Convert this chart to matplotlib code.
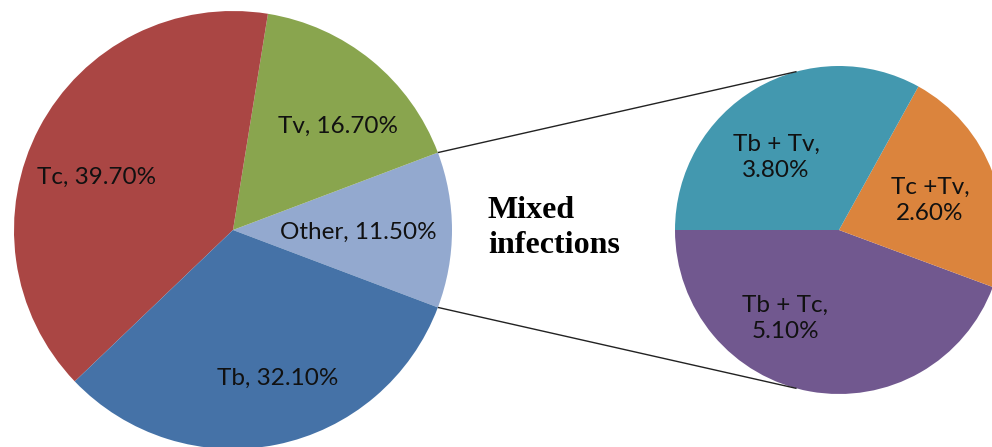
import numpy as np
import matplotlib
matplotlib.use("Agg")
import matplotlib.pyplot as plt

# Data
main_labels = ["Other", "Tv", "Tc", "Tb"]
main_values = [11.5, 16.7, 39.7, 32.1]
main_colors = ["#93A9CF", "#89A54E", "#AA4644", "#4572A7"]

sub_labels = ["Tb + Tc", "Tc +Tv", "Tb + Tv"]
sub_values = [5.1, 2.6, 3.8]
sub_colors = ["#71588F", "#DB843D", "#4398AF"]

W, H = 992, 447
fig = plt.figure(figsize=(W / 100, H / 100), dpi=100)
ax = fig.add_axes([0, 0, 1, 1])

c1 = (233, H - 230)
r1 = 219
c2 = (839, H - 230)
r2 = 164

other_half = 360 * main_values[0] / sum(main_values) / 2
ax.pie(main_values, colors=main_colors, startangle=-other_half, counterclock=True,
       center=c1, radius=r1, wedgeprops=dict(linewidth=0), frame=True)
ax.pie(sub_values, colors=sub_colors, startangle=180, counterclock=True,
       center=c2, radius=r2, wedgeprops=dict(linewidth=0), frame=True)

# connector lines
for sgn, ang2 in [(1, 105), (-1, 255)]:
    a1 = np.deg2rad(sgn * other_half)
    a2 = np.deg2rad(ang2)
    ax.plot([c1[0] + r1 * np.cos(a1), c2[0] + r2 * np.cos(a2)],
            [c1[1] + r1 * np.sin(a1), c2[1] + r2 * np.sin(a2)],
            color="#222222", lw=1.0, solid_capstyle="butt")

lab_font = dict(family=["Lato", "DejaVu Sans"], fontsize=17.5, color="#111111",
                ha="center", va="center", linespacing=1.3)
main_pos = {"Other": (358, 232), "Tv": (338, 126), "Tc": (97, 177), "Tb": (278, 378)}
for lab, v in zip(main_labels, main_values):
    x, y = main_pos[lab]
    ax.text(x, H - y, f"{lab}, {v:.2f}%", **lab_font)

sub_pos = {"Tb + Tc": (785, 318), "Tc +Tv": (930, 200), "Tb + Tv": (776, 157)}
for lab, v in zip(sub_labels, sub_values):
    x, y = sub_pos[lab]
    ax.text(x, H - y, f"{lab},\n{v:.2f}%", **lab_font)

ax.text(488, H - 228, "Mixed\ninfections", family=["Liberation Serif", "DejaVu Serif"],
        fontsize=23, fontweight="bold", ha="left", va="center", linespacing=1.28,
        color="#000000")

ax.set_xlim(0, W)
ax.set_ylim(0, H)
ax.set_aspect("auto")
ax.axis("off")
fig.savefig("out.png", dpi=100)
